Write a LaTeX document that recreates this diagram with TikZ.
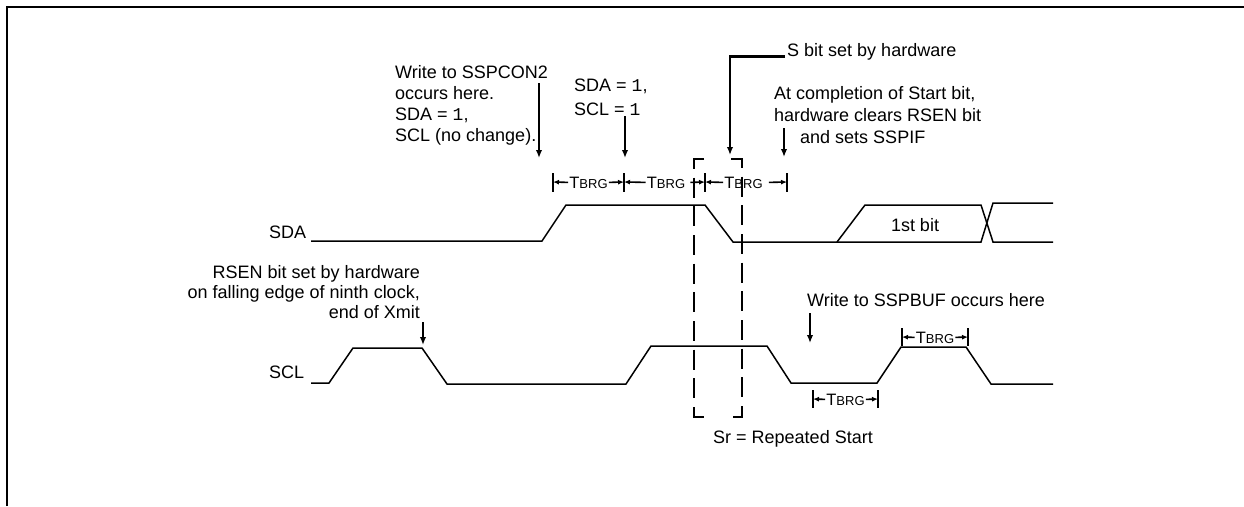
\documentclass[tikz,border=0pt]{standalone}
\usepackage{fontspec}
\setmainfont{Liberation Sans}
\setmonofont{Liberation Mono}
\usetikzlibrary{arrows.meta}

\newcommand{\tbrgtxt}{T{\fontsize{13}{15}\selectfont BRG}}

\begin{document}
\begin{tikzpicture}[x=1pt,y=-1pt,
  lbl/.style={font=\fontsize{18}{#1}\selectfont, inner sep=0pt},
  lbl/.default=21,
  sig/.style={line width=1.5pt},
  ann/.style={line width=2.2pt,-{Latex[length=8pt,width=6.5pt]}},
  tlbl/.style={font=\fontsize{16.5}{18}\selectfont, inner sep=0pt, anchor=base},
  tarr/.style={line width=1.6pt,-{Latex[length=6pt,width=5pt]}},
  bar/.style={line width=2.2pt},
  srbox/.style={line width=2.2pt, dash pattern=on 20pt off 8.67pt}]
\useasboundingbox (0,0) rectangle (1244,506);

% frame
\draw[line width=2.6pt] (7,506) -- (7,7) -- (1244,7);

% signals
\node[lbl, anchor=base west] (sdalbl) at (269,238.5) {SDA};
\node[lbl, anchor=base west] (scllbl) at (269,378.5) {SCL};
\draw[sig] (311,241) -- (542,241) -- (566,205) -- (705,205) -- (733,242)
  -- (981,242) -- (993,203) -- (1053,203);
\draw[sig] (837,242) -- (865,205) -- (981,205) -- (993,242) -- (1053,242);
\node[lbl, anchor=base] (firstbit) at (915,231.5) {1st bit};
\draw[sig] (311,383) -- (329,383) -- (353,348) -- (422,348) -- (447,384)
  -- (626,384) -- (651,346) -- (767,346) -- (791,383) -- (877,383)
  -- (901,347) -- (966,347) -- (991,384) -- (1053,384);

% repeated start window
\draw[srbox] (704,159) -- (694,159) -- (694,417) -- (704,417);
\draw[srbox] (731,159) -- (742,159) -- (742,417) -- (731,417);
\node[lbl, anchor=base west] (srlbl) at (713,443.5) {Sr = Repeated Start};

% notes
\node[lbl, align=left, anchor=north west] (wrcon) at (395,65.5)
  {Write to SSPCON2\\occurs here.\\SDA = \texttt{1},\\SCL (no change).};
\coordinate (wrcon-s) at (539,83);
\coordinate (wrcon-e) at (539,158);
\draw[ann] (wrcon-s) -- (wrcon-e);

\node[lbl=24, align=left, anchor=north west] (sdaone) at (574,78.5)
  {SDA = \texttt{1},\\SCL = \texttt{1}};
\coordinate (sdaone-s) at (625,116);
\coordinate (sdaone-e) at (625,158);
\draw[ann] (sdaone-s) -- (sdaone-e);

\node[lbl, anchor=base west] (sbit) at (787,56.5) {S bit set by hardware};
\coordinate (sbit-e) at (730,155);
\draw[ann] ([xshift=-2pt]sbit.base west) -| (sbit-e);

\node[lbl=22, align=left, anchor=north west] (startdone) at (774,86.5)
  {At completion of Start bit,\\hardware clears RSEN bit\\\hspace*{26pt}and sets SSPIF};
\coordinate (startdone-s) at (784,128);
\coordinate (startdone-e) at (784,157);
\draw[ann] (startdone-s) -- (startdone-e);

\node[lbl=20, align=right, anchor=north east] (rsenset) at (420,265.5)
  {RSEN bit set by hardware\\on falling edge of ninth clock,\\end of Xmit};
\coordinate (rsenset-s) at (423,322);
\coordinate (rsenset-e) at (423,345);
\draw[ann] (rsenset-s) -- (rsenset-e);

\node[lbl, anchor=base west] (wrbuf) at (807,306.5) {Write to SSPBUF occurs here};
\coordinate (wrbuf-s) at (810,313);
\coordinate (wrbuf-e) at (810,343);
\draw[ann] (wrbuf-s) -- (wrbuf-e);

% baud rate periods
\foreach \x in {553,624,705,787} \draw[bar] (\x,173) -- (\x,192);
\foreach \x in {813,878} \draw[bar] (\x,390) -- (\x,408);
\foreach \x in {902,968} \draw[bar] (\x,328) -- (\x,346);
\coordinate (b1) at (553,182);
\coordinate (b2) at (624,182);
\coordinate (b3) at (705,182);
\coordinate (b4) at (787,182);
\coordinate (b5) at (813,399);
\coordinate (b6) at (878,399);
\coordinate (b7) at (902,337);
\coordinate (b8) at (968,337);
\node[tlbl] (t1) at (588.5,188) {\tbrgtxt};
\node[tlbl] (t2) at (666,188) {\tbrgtxt};
\node[tlbl] (t3) at (743.5,188) {\tbrgtxt};
\node[tlbl] (t4) at (845.5,405) {\tbrgtxt};
\node[tlbl] (t5) at (935,343) {\tbrgtxt};
\draw[tarr] ([xshift=-1pt]t1.west) -- (b1);
\draw[tarr] ([xshift=1pt]t1.east) -- (b2);
\draw[tarr] ([xshift=-1pt]t2.west) -- (b2);
\draw[tarr] ([xshift=5pt]t2.east) -- (b3);
\draw[tarr] ([xshift=-1pt]t3.west) -- (b3);
\draw[tarr] ([xshift=6pt]t3.east) -- (b4);
\draw[tarr] ([xshift=-1pt]t4.west) -- (b5);
\draw[tarr] ([xshift=1pt]t4.east) -- (b6);
\draw[tarr] ([xshift=-1pt]t5.west) -- (b7);
\draw[tarr] ([xshift=1pt]t5.east) -- (b8);

\end{tikzpicture}
\end{document}
